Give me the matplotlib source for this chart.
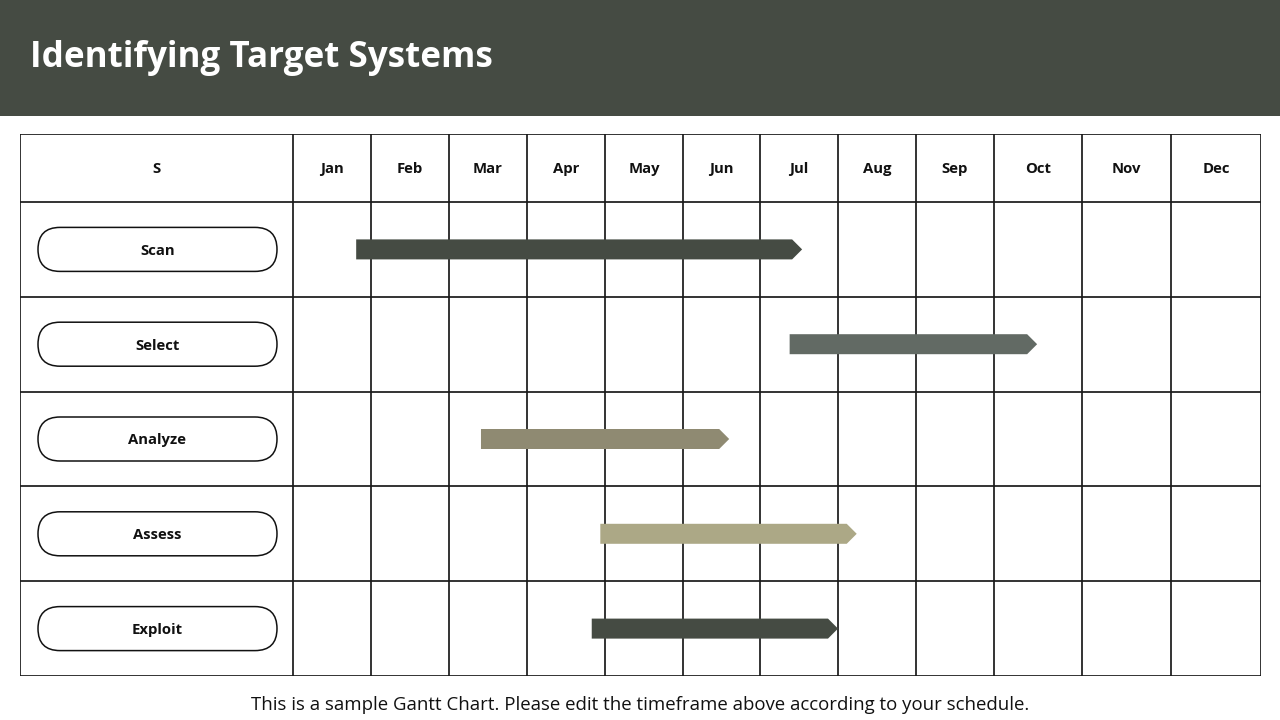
import numpy as np
import matplotlib
matplotlib.use("Agg")
import matplotlib.pyplot as plt
from matplotlib.patches import Polygon, FancyBboxPatch, Rectangle
from matplotlib.transforms import offset_copy

# ---------------- data ----------------
title = "Identifying Target Systems"
header_label = "S"
months = ["Jan", "Feb", "Mar", "Apr", "May", "Jun", "Jul", "Aug", "Sep", "Oct", "Nov", "Dec"]
tasks = ["Scan", "Select", "Analyze", "Assess", "Exploit"]
starts = [0.81, 6.38, 2.41, 3.94, 3.83]      # month units (0 = start of Jan)
ends = [6.54, 9.49, 5.60, 7.24, 7.00]        # arrow tip, month units
bar_colors = ["#454b43", "#626a64", "#8f8a72", "#aca886", "#454b43"]
footer = "This is a sample Gantt Chart. Please edit the timeframe above according to your schedule."

# ---------------- layout ----------------
W, H = 1280, 720
plt.rcParams['font.family'] = ['Open Sans', 'DejaVu Sans']
fig = plt.figure(figsize=(W / 100, H / 100), dpi=100)
fig.patch.set_facecolor("white")

left_px, right_px, top_px, bot_px = 20, 1261, 134, 676
col_widths = [273, 78, 78, 78, 78, 78, 77, 78, 78, 78, 88, 89, 90]
bounds_px = np.concatenate([[left_px], left_px + np.cumsum(col_widths)])
bounds_val = np.arange(-1, len(months) + 1, dtype=float)

def fwd(x):
    return np.interp(x, bounds_val, bounds_px)

def inv(p):
    return np.interp(p, bounds_px, bounds_val)

header_h = 68
row_h = (bot_px - top_px - header_h) / len(tasks)
hdr = header_h / row_h

ax = fig.add_axes([left_px / W, (H - bot_px) / H, (right_px - left_px) / W, (bot_px - top_px) / H])
ax.set_xscale('function', functions=(fwd, inv))
ax.set_xlim(-1, len(months))
ax.set_ylim(len(tasks), -hdr)
ax.axis("off")
ax.set_zorder(1)

grid_c = "#1a1a1a"
lw = 1.25
# vertical lines
ax.vlines(bounds_val, -hdr, len(tasks), colors=grid_c, lw=lw, zorder=1)
# horizontal lines
ax.hlines(np.concatenate([[-hdr], np.arange(0, len(tasks) + 1)]), -1, len(months),
          colors=grid_c, lw=lw, zorder=1)

# header texts: baseline placed a fixed distance below cell centre
fs_small = 10.7
base_off = 5.4
tr = offset_copy(ax.transData, fig=fig, y=-base_off, units='dots')
ax.text(-0.5, -hdr / 2, header_label, ha="center", va="baseline", fontsize=fs_small,
        fontweight="bold", color="#111", transform=tr)
for i, m in enumerate(months):
    ax.text(i + 0.5, -hdr / 2, m, ha="center", va="baseline", fontsize=fs_small,
            fontweight="bold", color="#111", transform=tr)

# bars with arrow heads
bar_h = 20 / row_h
head_px = 10
for i, (s, e, c) in enumerate(zip(starts, ends, bar_colors)):
    yc = i + 0.5
    base = inv(fwd(e) - head_px)
    poly = Polygon([[s, yc - bar_h / 2], [base, yc - bar_h / 2], [e, yc],
                    [base, yc + bar_h / 2], [s, yc + bar_h / 2]],
                   closed=True, facecolor=c, edgecolor="none", zorder=3)
    ax.add_patch(poly)

# overlay in pixel coordinates
ov = fig.add_axes([0, 0, 1, 1])
ov.set_xlim(0, W)
ov.set_ylim(0, H)
ov.axis("off")
ov.patch.set_alpha(0)
ov.set_zorder(2)

# title band
ov.add_patch(Rectangle((0, H - 116), W, 116, facecolor="#454b43", edgecolor="none"))
ov.text(30, H - 58.5, title, ha="left", va="center", fontsize=25.2, fontweight="bold", color="white")

# task pills
pill_x0, pill_x1, pill_h = 38, 277, 44
for i, t in enumerate(tasks):
    yc = H - (top_px + header_h + (i + 0.5) * row_h)
    xc = (pill_x0 + pill_x1) / 2
    ov.add_patch(FancyBboxPatch((pill_x0, yc - pill_h / 2), pill_x1 - pill_x0, pill_h,
                                boxstyle=f"round,pad=0,rounding_size={pill_h / 2}",
                                facecolor="white", edgecolor="#111", lw=1.1))
    ov.text(xc, yc - base_off, t, ha="center", va="baseline", fontsize=fs_small,
            fontweight="bold", color="#111")

# footer
ov.text(640, H - 704.5, footer, ha="center", va="center", fontsize=13.4, color="#111")

fig.savefig("out.png", dpi=100)
